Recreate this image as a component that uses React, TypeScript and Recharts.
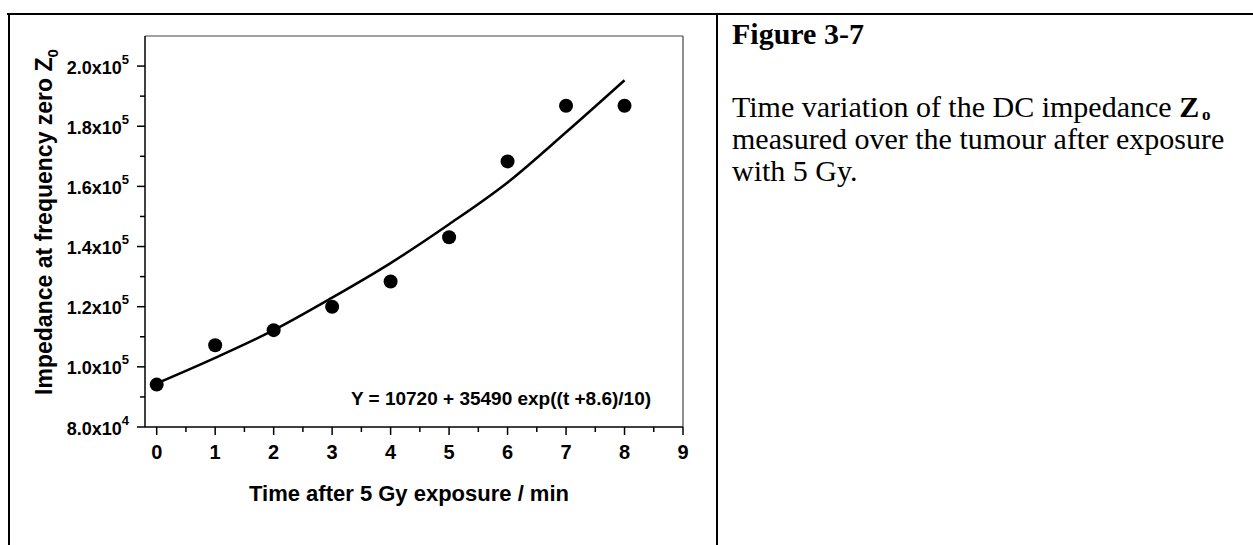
import React from "react";
import { ComposedChart, Line, Scatter, XAxis, YAxis, ReferenceLine } from "recharts";

// time after exposure (min)
const times = [0, 1, 2, 3, 4, 5, 6, 7, 8];
// measured Z0 points
const measured = [94100, 107200, 112200, 120000, 128400, 143100, 168300, 186800, 186800];
// fitted curve
const fitted = [94500, 103000, 112200, 123000, 134500, 147400, 161300, 178000, 195300];

const xTicks = [0, 0.5, 1, 1.5, 2, 2.5, 3, 3.5, 4, 4.5, 5, 5.5, 6, 6.5, 7, 7.5, 8, 8.5, 9];
const xLabels = [0, 1, 2, 3, 4, 5, 6, 7, 8, 9];
const yTicks = [80000, 90000, 100000, 110000, 120000, 130000, 140000, 150000, 160000, 170000, 180000, 190000, 200000];
const yLabelValues = [80000, 100000, 120000, 140000, 160000, 180000, 200000];
const yMantissa = ["8.0", "1.0", "1.2", "1.4", "1.6", "1.8", "2.0"];
const yExponent = ["4", "5", "5", "5", "5", "5", "5"];

const fitData = times.map((t, i) => ({ t, z: fitted[i] }));
const pointData = times.map((t, i) => ({ t, z: measured[i] }));

const SANS = "'Liberation Sans', Arial, sans-serif";
const SERIF = "'Liberation Serif', 'Times New Roman', serif";

const XTick = (props: any) => {
  const { x, y, payload } = props;
  const major = xLabels.includes(payload.value);
  return (
    <g>
      <line x1={x} x2={x} y1={y} y2={y + (major ? 8 : 5)} stroke="#000" strokeWidth={1.5} />
      {major && (
        <text x={x} y={y + 32} textAnchor="middle" fontFamily={SANS} fontWeight="bold" fontSize={20} fill="#000">
          {payload.value}
        </text>
      )}
    </g>
  );
};

const YTick = (props: any) => {
  const { x, y, payload } = props;
  const i = yLabelValues.indexOf(payload.value);
  return (
    <g>
      <line x1={x} x2={x - (i >= 0 ? 8 : 5)} y1={y} y2={y} stroke="#000" strokeWidth={1.5} />
      {i >= 0 && (
        <text x={x - 16} y={y + 7.5} textAnchor="end" fontFamily={SANS} fontWeight="bold" fontSize={18} fill="#000">
          <tspan>{yMantissa[i]}x10</tspan>
          <tspan dy={-10} fontSize={13}>{yExponent[i]}</tspan>
        </text>
      )}
    </g>
  );
};

const YTitle = () => (
  <text
    x={52}
    y={222}
    transform="rotate(-90, 52, 222)"
    textAnchor="middle"
    fontFamily={SANS}
    fontWeight="bold"
    fontSize={23}
    fill="#000"
  >
    <tspan>Impedance at frequency zero Z</tspan>
    <tspan dy={6} fontSize={15}>0</tspan>
  </text>
);

const XTitle = () => (
  <text x={409} y={501} textAnchor="middle" fontFamily={SANS} fontWeight="bold" fontSize={22} fill="#000">
    Time after 5 Gy exposure / min
  </text>
);

const FitNote = () => (
  <text x={501} y={405} textAnchor="middle" fontFamily={SANS} fontWeight="bold" fontSize={19} fill="#000">
    Y = 10720 + 35490 exp((t +8.6)/10)
  </text>
);

export default function App() {
  return (
    <div style={{ position: "absolute", left: 0, top: 0, width: 1253, height: 545, background: "#fff", overflow: "hidden" }}>
      {/* table borders */}
      <div style={{ position: "absolute", left: 7, top: 13, width: 1246, height: 2, background: "#000" }} />
      <div style={{ position: "absolute", left: 8, top: 13, width: 2, height: 532, background: "#000" }} />
      <div style={{ position: "absolute", left: 716, top: 13, width: 2, height: 532, background: "#000" }} />

      <div style={{ position: "absolute", left: 0, top: 0 }}>
        <ComposedChart width={720} height={545} data={fitData} margin={{ top: 36, right: 37, bottom: 0, left: 0 }}>
          <XAxis
            dataKey="t"
            type="number"
            domain={[-0.2, 9]}
            ticks={xTicks}
            interval={0}
            tick={<XTick />}
            tickLine={false}
            tickSize={0}
            tickMargin={0}
            height={118}
            axisLine={{ stroke: "#000", strokeWidth: 1.5 }}
            label={{ content: () => <XTitle /> }}
          />
          <YAxis
            type="number"
            domain={[80000, 210000]}
            ticks={yTicks}
            interval={0}
            tick={<YTick />}
            tickLine={false}
            tickSize={0}
            tickMargin={0}
            width={145}
            axisLine={{ stroke: "#000", strokeWidth: 1.5 }}
            label={{ content: () => <YTitle /> }}
          />
          <ReferenceLine y={210000} stroke="#444" strokeWidth={1.2} />
          <ReferenceLine x={9} stroke="#444" strokeWidth={1.2} label={{ content: () => <FitNote /> }} />
          <Line type="monotone" dataKey="z" stroke="#000" strokeWidth={2.5} dot={false} isAnimationActive={false} />
          <Scatter
            data={pointData}
            dataKey="z"
            fill="#000"
            isAnimationActive={false}
            shape={(p: any) => <circle cx={p.cx} cy={p.cy} r={7} fill="#000" />}
          />
        </ComposedChart>
      </div>

      {/* caption */}
      <svg width={1253} height={545} style={{ position: "absolute", left: 0, top: 0, pointerEvents: "none" }}>
        <text x={732} y={44} fontFamily={SERIF} fontWeight="bold" fontSize={30} fill="#000">Figure 3-7</text>
        <text x={732} y={117} fontFamily={SERIF} fontSize={30} fill="#000">
          <tspan>Time variation of the DC impedance </tspan>
          <tspan fontWeight="bold">Z</tspan>
        </text>
        <text x={1202} y={120} fontFamily={SERIF} fontWeight="bold" fontSize={17} fill="#000">o</text>
        <text x={732} y={149} fontFamily={SERIF} fontSize={30} fill="#000">measured over the tumour after exposure</text>
        <text x={732} y={181} fontFamily={SERIF} fontSize={30} fill="#000">with 5 Gy.</text>
      </svg>
    </div>
  );
}
